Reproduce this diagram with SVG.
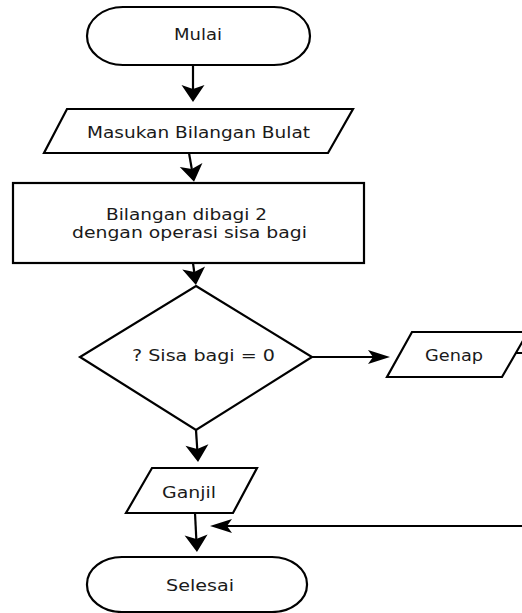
<svg xmlns="http://www.w3.org/2000/svg" width="522" height="613" viewBox="0 0 522 613">
<style>
.s{fill:#fff;stroke:#000;stroke-width:2.2;}
.t{font-family:"DejaVu Sans",Verdana,sans-serif;font-size:15px;fill:#1a1a1a;text-anchor:middle;}
.c{fill:none;stroke:#000;stroke-width:2.2;}
</style>
<defs>
<marker id="av" markerUnits="userSpaceOnUse" markerWidth="17" markerHeight="23" refX="4" refY="11.5" orient="auto" overflow="visible">
<path d="M0,0 L17,11.5 L0,23 L4,11.5 z" fill="#000"/>
</marker>
<marker id="ah" markerUnits="userSpaceOnUse" markerWidth="22" markerHeight="14" refX="5" refY="7" orient="auto" overflow="visible">
<path d="M0,0 L22,7 L0,14 L5,7 z" fill="#000"/>
</marker>
</defs>
<rect width="522" height="613" fill="#fff"/>
<g id="connectors">
<path class="c" d="M193,65 L193,89" marker-end="url(#av)"/>
<path class="c" d="M189,153 L191.8,169" marker-end="url(#av)"/>
<path class="c" d="M193,263 L194.2,272" marker-end="url(#av)"/>
<path class="c" d="M312,357 L373,357" marker-end="url(#ah)"/>
<path class="c" d="M196,430 L197.2,449" marker-end="url(#av)"/>
<path class="c" d="M195,513 L196.3,539" marker-end="url(#av)"/>
<path class="c" d="M513,353 L540,353 L540,526 L227,526" marker-end="url(#ah)"/>
</g>
<g id="mulai">
<rect class="s" x="87" y="7" width="223" height="58" rx="36" ry="29"/>
<text class="t" x="198" y="40" textLength="48" lengthAdjust="spacingAndGlyphs">Mulai</text>
</g>
<g id="masukan">
<polygon class="s" points="67,109 353,109 328,153 44,153"/>
<text class="t" x="198.5" y="138" textLength="223" lengthAdjust="spacingAndGlyphs">Masukan Bilangan Bulat</text>
</g>
<g id="proses">
<rect class="s" x="13" y="183" width="351" height="80"/>
<text class="t" x="186.5" y="220" textLength="161" lengthAdjust="spacingAndGlyphs">Bilangan dibagi 2</text>
<text class="t" x="189.5" y="238" textLength="235" lengthAdjust="spacingAndGlyphs">dengan operasi sisa bagi</text>
</g>
<g id="keputusan">
<polygon class="s" points="196,286 312,357 196,430 80,357"/>
<text class="t" x="203.5" y="361" textLength="143" lengthAdjust="spacingAndGlyphs">? Sisa bagi = 0</text>
</g>
<g id="genap">
<polygon class="s" points="412,332 528,332 502,377 387,377"/>
<text class="t" x="454" y="361" textLength="58" lengthAdjust="spacingAndGlyphs">Genap</text>
</g>
<g id="ganjil">
<polygon class="s" points="152,468 257,468 233,513 126,513"/>
<text class="t" x="189" y="498" textLength="54" lengthAdjust="spacingAndGlyphs">Ganjil</text>
</g>
<g id="selesai">
<rect class="s" x="87" y="557" width="220" height="55" rx="35" ry="27"/>
<text class="t" x="200" y="591" textLength="68" lengthAdjust="spacingAndGlyphs">Selesai</text>
</g>
</svg>
